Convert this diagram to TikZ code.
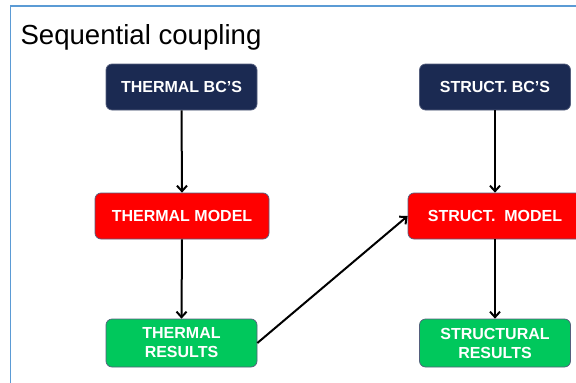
\documentclass[tikz,border=0pt]{standalone}
\usepackage{fontspec}
\setmainfont{Liberation Sans}
\usetikzlibrary{arrows.meta}
\definecolor{navy}{RGB}{27,42,82}
\definecolor{boxred}{RGB}{255,0,0}
\definecolor{boxgreen}{RGB}{0,200,92}
\definecolor{frameblue}{RGB}{91,155,213}
\definecolor{edgegray}{RGB}{85,95,125}
\tikzset{
  box/.style={rectangle, rounded corners=6pt, draw=edgegray, line width=0.7pt,
    text=white, font=\fontsize{16}{19}\selectfont\bfseries, align=center,
    inner sep=0pt},
  bcbox/.style={box, fill=navy, minimum width=151pt, minimum height=46pt},
  modelbox/.style={box, fill=boxred, minimum width=174pt, minimum height=46pt},
  resbox/.style={box, fill=boxgreen, minimum width=151pt, minimum height=48pt},
  flow/.style={line width=2pt, -{Straight Barb[length=5.5pt,width=10pt,line width=2pt]}},
}
\begin{document}
\begin{tikzpicture}[x=1pt,y=-1pt]
\useasboundingbox (0,0) rectangle (576,383);
\clip (0,0) rectangle (576,383);
\fill[white] (0,0) rectangle (576,383);
\draw[frameblue, line width=1.5pt] (10.5,383) -- (10.5,6) -- (576,6);
\node[anchor=base west, font=\fontsize{27.6}{32}\selectfont] (title) at (17,44) {Sequential coupling};
\node[bcbox] (tbc) at (181.5,87) {THERMAL BC’S};
\node[bcbox] (sbc) at (495,87) {STRUCT. BC’S};
\node[modelbox] (tm) at (182,216) {THERMAL MODEL};
\node[modelbox] (sm) at (495,216) {STRUCT.\ \ MODEL};
\node[resbox] (tr) at (181.5,343) {THERMAL\\RESULTS};
\node[resbox] (sr) at (495,343) {STRUCTURAL\\RESULTS};
\draw[flow] (tbc.south) -- (tm.north);
\draw[flow] (tm.south) -- (tr.north);
\draw[flow] (sbc.south) -- (sm.north);
\draw[flow] (sm.south) -- (sr.north);
\draw[flow] (tr.east) -- (sm.west);
\end{tikzpicture}
\end{document}
